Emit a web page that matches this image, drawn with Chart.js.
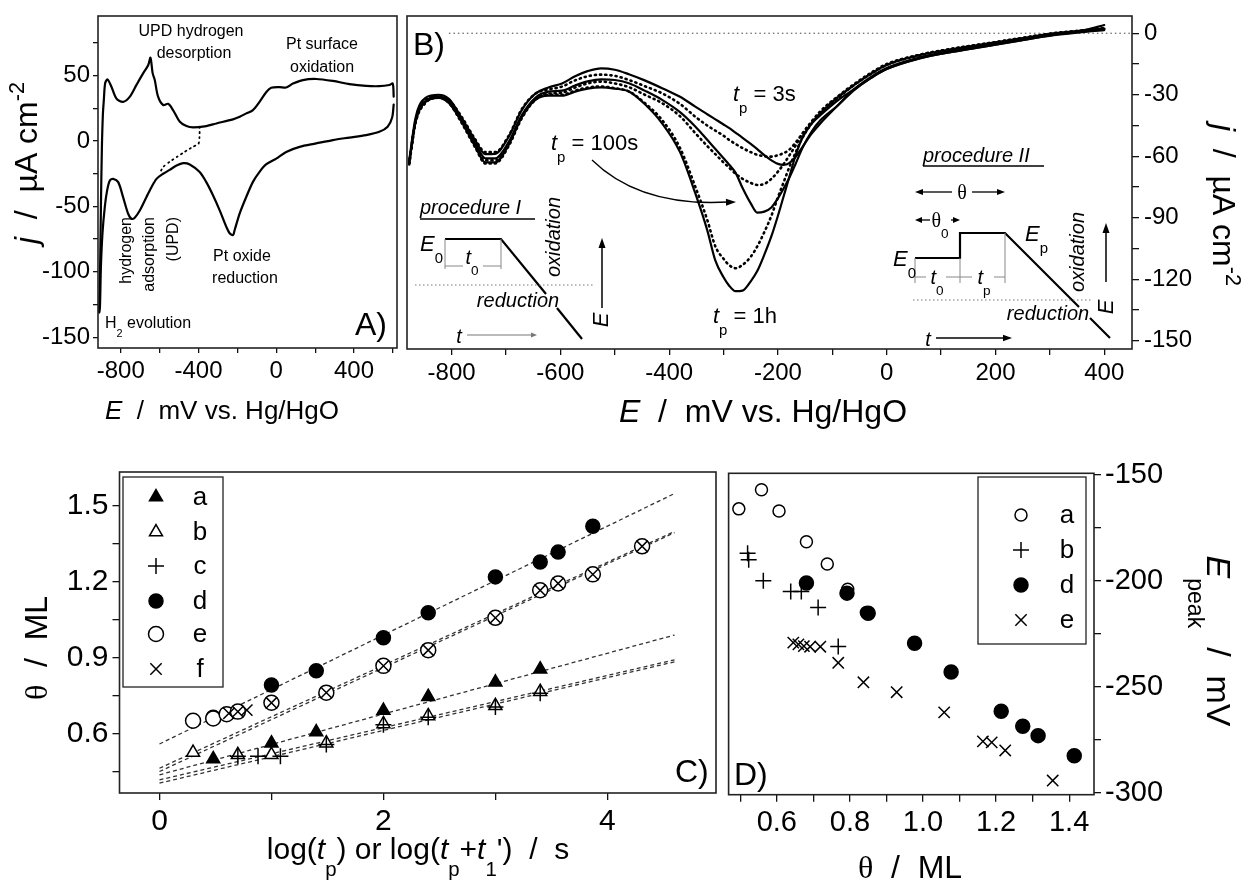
<!DOCTYPE html>
<html>
<head>
<meta charset="utf-8">
<script src="https://cdn.jsdelivr.net/npm/chart.js@4.4.1/dist/chart.umd.min.js"></script>
<style>
  body { margin: 0; background: #fff; width: 1241px; height: 888px; position: relative; overflow: hidden; }
  canvas { position: absolute; left: 0; top: 0; }
</style>
</head>
<body>
<canvas id="chartA" width="1241" height="888"></canvas>
<canvas id="chartB" width="1241" height="888"></canvas>
<canvas id="chartC" width="1241" height="888"></canvas>
<canvas id="chartD" width="1241" height="888"></canvas>
<script>
const FONT = '"Liberation Sans", Arial, Helvetica, sans-serif';
const SERIF = '"Liberation Serif", "DejaVu Serif", serif';

// ---- panel A : cyclic voltammogram ----
const aUpE = [-911, -906, -902, -897, -892, -887, -880, -868, -848, -822, -788, -753, -719, -685, -659, -647, -636, -625, -608, -582, -556, -531, -496, -462, -428, -360, -308, -223, -188, -154, -120, -86, -51, -26, 17, 51, 86, 137, 205, 291, 376, 462, 530, 582, 599, 604];
const aUpJ = [-131, -95, -50, -5, 20, 31.4, 44.4, 47.2, 41.6, 32.5, 30, 34, 43, 51.8, 58, 63.8, 52, 46.7, 34, 27.6, 28.5, 23.7, 14.8, 11.5, 10.5, 11.5, 13.5, 16.6, 18.6, 21.2, 23.7, 30, 37.5, 40.8, 41.3, 41, 44, 46.7, 47.5, 46, 43.6, 42.2, 42, 42.9, 44, 34];
const aDownE = [604, 596, 573, 530, 462, 376, 291, 205, 120, 51, 0, -51, -86, -120, -154, -188, -214, -223, -240, -257, -291, -325, -360, -394, -445, -479, -513, -548, -582, -616, -642, -668, -702, -728, -745, -762, -788, -813, -839, -856, -870, -882, -894, -902, -907, -911];
const aDownJ = [28, 18, 11, 7.1, 4.6, 2.7, 0.8, -1.8, -4.4, -8.3, -13.4, -17.7, -23.5, -31.2, -42.6, -55.3, -68, -72, -70.5, -65.6, -53, -41.6, -31.4, -23.7, -17.9, -16.9, -18.7, -22, -25, -28.9, -35.3, -42.9, -53.1, -58.6, -59.4, -55.6, -42.9, -31.4, -28.9, -30.1, -37.7, -50.3, -70.7, -96, -127, -131];
const aDotE = [-394, -395, -400, -430, -471, -510, -548, -580, -602];
const aDotJ = [11, 3, -2, -4.5, -8.2, -12, -15.8, -19.5, -25];
const aTicksE = [-800, -600, -400, -200, 0, 200, 400, 600];
const aLabelsE = ['-800', '', '-400', '', '0', '', '400', ''];
const aTicksJ = [75, 50, 25, 0, -25, -50, -75, -100, -125, -150];
const aLabelsJ = ['', '50', '', '0', '', '-50', '', '-100', '', '-150'];

// ---- panel B : reduction sweeps after different polarisation times ----
const bE = [-878, -866, -848, -824, -805, -781, -756, -738, -720, -695, -671, -646, -622, -597, -573, -550, -525, -500, -474, -445, -413, -380, -352, -330, -315, -300, -290, -278, -265, -250, -238, -225, -212, -200, -190, -180, -168, -155, -138, -122, -91, -61, -30, 0, 61, 122, 184, 245, 307, 368, 400];
const bJ3s = [-62, -41, -31.5, -30, -32, -41.5, -52.5, -59, -58.8, -50.5, -37.5, -29.5,
  -26.5, -24.5, -21, -18.5, -17.1, -17.8, -20, -23, -26.8, -31,
  -35.8, -39.5, -42, -44.5, -46.2, -48.5, -51, -54, -56.5, -59.5,
  -62, -63.7, -64.2, -63.5, -60.5, -55.5, -49, -44, -35.5, -27.5,
  -21.5, -17, -11.8, -8.5, -5.8, -3, -0.3, 1.8, 4];
const bJ10s = [-63.5, -42, -32, -30.5, -32.5, -41, -52, -58, -58, -50, -37, -29.5,
  -27.5, -26, -23, -21, -20.2, -20.8, -22.8, -25.8, -29.3, -34.5,
  -40.7, -45, -47.5, -50, -52, -54, -56, -58, -59.3, -60,
  -60.2, -59.5, -58.5, -57, -53.5, -49, -43.5, -39, -32, -25.5,
  -20, -15.5, -10.5, -7.5, -5, -2.5, 0, 1.5, 2.5];
const bJ100s = [-63, -42.5, -33, -31, -33, -42.5, -54, -61, -61, -53, -40, -31.5,
  -28.5, -28, -25.5, -23.5, -22.5, -22.8, -24.4, -28, -32.5, -38.5,
  -45.5, -52, -56.5, -61, -64, -68, -75.5, -83, -87.5, -87,
  -85, -80.5, -76, -71, -64, -56, -48, -42.5, -35.5, -28,
  -22, -17.5, -12.2, -9, -6.3, -3.5, -0.8, 1, 2];
const bJ300s = [-63.5, -43, -33.5, -31, -33.5, -43, -55, -62, -62, -54, -40.5, -32,
  -29.5, -29, -26.5, -24.5, -23.6, -24.5, -26.3, -30, -34.1, -40.5,
  -48.7, -55, -59, -63, -65.5, -68.5, -71, -73, -74, -73.5,
  -71, -67.5, -64, -60, -55, -49, -43, -38, -31, -25,
  -19.5, -15, -10.5, -7.5, -5, -2.5, 0, 1.5, 2.5];
const bJ1000s = [-64, -43.5, -34, -31.5, -34, -44, -56, -63.5, -63.5, -55, -41.5, -32.5,
  -30, -30, -28, -26.5, -26, -26.8, -28.4, -34, -42.3, -56,
  -74.8, -91, -104, -110, -113, -114.6, -113, -109, -104, -97,
  -89, -80, -73, -66, -58.5, -51, -44, -39, -31.5, -25.5,
  -20, -15.5, -10.8, -7.8, -5.2, -2.7, -0.2, 1.3, 2.2];
const bJ1h = [-63.5, -43, -33.5, -31.5, -34, -43.5, -55.5, -63, -63, -54.5, -41, -32.5,
  -30.5, -30.5, -28.5, -27, -26.4, -27, -28.4, -34.5, -43.9, -58,
  -78, -96, -110.9, -119, -123, -125.8, -125.5, -121, -116, -108,
  -99, -89, -80, -71, -60, -51, -44, -40, -33, -27.5,
  -22, -17.5, -12.3, -9, -6.3, -3.6, -1, 0.8, 1.5];
const bZeroE = [-805, 451];
const bZeroJ = [0, 0];
const bTicksE = [-800, -700, -600, -500, -400, -300, -200, -100, 0, 100, 200, 300, 400];
const bLabelsE = ['-800', '', '-600', '', '-400', '', '-200', '', '0', '', '200', '', '400'];
const bTicksJ = [0, -15, -30, -45, -60, -75, -90, -105, -120, -135, -150];
const bLabelsJ = ['0', '', '-30', '', '-60', '', '-90', '', '-120', '', '-150'];

// ---- panel C : coverage vs log time ----
const cA_x = [0.48, 1.0, 1.40, 2.0, 2.40, 3.0, 3.40];
const cA_y = [0.50, 0.562, 0.606, 0.691, 0.746, 0.803, 0.855];
const cB_x = [0.30, 0.70, 1.0, 1.49, 2.0, 2.40, 3.0, 3.40];
const cB_y = [0.525, 0.516, 0.516, 0.562, 0.638, 0.670, 0.710, 0.766];
const cC_x = [0.70, 0.88, 1.08, 1.49, 2.0, 2.40, 3.0, 3.40];
const cC_y = [0.51, 0.51, 0.51, 0.557, 0.635, 0.665, 0.705, 0.76];
const cD_x = [0.48, 1.0, 1.40, 2.0, 2.40, 3.0, 3.40, 3.56, 3.87];
const cD_y = [0.665, 0.792, 0.849, 0.979, 1.078, 1.22, 1.279, 1.318, 1.42];
const cE_x = [0.30, 0.48, 0.60, 0.70, 1.0, 1.49, 2.0, 2.40, 3.0, 3.40, 3.56, 3.87, 4.31];
const cE_y = [0.651, 0.66, 0.677, 0.687, 0.722, 0.762, 0.868, 0.93, 1.058, 1.167, 1.194, 1.23, 1.341];
const cF_x = [0.62, 0.70, 0.78, 1.0, 1.49, 2.0, 2.40, 3.0, 3.40, 3.56, 3.87, 4.31];
const cF_y = [0.68, 0.687, 0.693, 0.722, 0.762, 0.868, 0.93, 1.058, 1.167, 1.194, 1.23, 1.341];
const cFitX = [0, 4.6];
const cFitStart = [0.437, 0.417, 0.404, 0.559, 0.463, 0.45];
const cFitEnd = [0.99, 0.892, 0.884, 1.55, 1.40, 1.395];
const cSeriesNames = ['a', 'b', 'c', 'd', 'e', 'f'];
const cTicksX = [0, 1, 2, 3, 4];
const cLabelsX = ['0', '', '2', '', '4'];
const cTicksY = [0.45, 0.6, 0.75, 0.9, 1.05, 1.2, 1.35, 1.5];
const cLabelsY = ['', '0.6', '', '0.9', '', '1.2', '', '1.5'];

// ---- panel D : peak potential vs coverage ----
const dA_x = [0.496, 0.558, 0.606, 0.681, 0.738, 0.794, 0.845];
const dA_y = [-166, -157, -167, -181.5, -192, -204, -215];
const dB_x = [0.52, 0.523, 0.563, 0.638, 0.667, 0.713, 0.768];
const dB_y = [-187, -190, -200, -205, -205, -212.6, -231];
const dD_x = [0.681, 0.792, 0.85, 0.977, 1.077, 1.214, 1.273, 1.315, 1.414];
const dD_y = [-201, -205.8, -215.3, -229.5, -243, -261.6, -268.7, -273.1, -282.6];
const dE_x = [0.645, 0.659, 0.674, 0.691, 0.719, 0.768, 0.837, 0.928, 1.058, 1.164, 1.188, 1.225, 1.355];
const dE_y = [-229.2, -230, -230.8, -231.1, -231.1, -238.7, -247.9, -252.6, -262.1, -275.8, -276.3, -280.1, -294.3];
const dSeriesNames = ['a', 'b', 'd', 'e'];
const dTicksX = [0.5, 0.6, 0.7, 0.8, 0.9, 1.0, 1.1, 1.2, 1.3, 1.4];
const dLabelsX = ['', '0.6', '', '0.8', '', '1.0', '', '1.2', '', '1.4'];
const dTicksY = [-150, -175, -200, -225, -250, -275, -300];
const dLabelsY = ['-150', '', '-200', '', '-250', '', '-300'];

// ---------- helpers ----------
function pts(xs, ys) { return xs.map((x, i) => ({ x: x, y: ys[i] })); }

function axis(o) {
  return {
    type: 'linear', position: o.pos, min: o.min, max: o.max,
    afterBuildTicks: s => { s.ticks = o.ticks.map(v => ({ value: v })); },
    afterFit: s => {
      if (s.isHorizontal()) s.height = o.size; else s.width = o.size;
      s.paddingLeft = 0; s.paddingRight = 0; s.paddingTop = 0; s.paddingBottom = 0;
    },
    grid: { drawOnChartArea: false, drawTicks: true, tickLength: o.tick || 6, color: '#111', lineWidth: 1.3 },
    border: { display: false },
    ticks: {
      autoSkip: false, maxRotation: 0, minRotation: 0, padding: o.pad || 4, color: '#000',
      font: { family: FONT, size: o.font },
      callback: v => { const i = o.ticks.indexOf(v); return i >= 0 ? o.labels[i] : ''; }
    }
  };
}

function curve(xs, ys, dotted, width) {
  return {
    data: pts(xs, ys), showLine: true, pointRadius: 0, borderColor: '#000',
    borderWidth: width || 2.2, borderDash: dotted ? [1.2, 4] : [], borderCapStyle: 'round',
    cubicInterpolationMode: 'monotone', fill: false
  };
}

function marker(xs, ys, style, filled, r) {
  return {
    data: pts(xs, ys), showLine: false, pointStyle: style, pointRadius: r,
    pointBorderWidth: 1.5, pointBorderColor: '#000', pointBackgroundColor: filled ? '#000' : '#fff'
  };
}

function fitLine(i) {
  return {
    data: pts(cFitX, [cFitStart[i], cFitEnd[i]]), showLine: true, pointRadius: 0,
    borderColor: '#333', borderWidth: 1.3, borderDash: [4, 3]
  };
}

function rich(ctx, x, y, segs, size, align) {
  ctx.textAlign = 'left';
  ctx.textBaseline = 'alphabetic';
  const parts = segs.map(s => {
    const t = s[0], st = s[1] || 'r';
    const small = st === 'sub' || st === 'sup';
    const sz = small ? size * 0.68 : size;
    const font = (st === 'i' ? 'italic ' : '') + sz + 'px ' + (st === 'g' ? SERIF : FONT);
    ctx.font = font;
    return { t: t, font: font, w: ctx.measureText(t).width, dy: st === 'sub' ? size * 0.55 : (st === 'sup' ? -size * 0.42 : 0) };
  });
  const total = parts.reduce((a, p) => a + p.w, 0);
  let cx = align === 'center' ? x - total / 2 : (align === 'right' ? x - total : x);
  parts.forEach(p => { ctx.font = p.font; ctx.fillText(p.t, cx, y + p.dy); cx += p.w; });
}

function richRot(ctx, x, y, angle, segs, size) {
  ctx.save();
  ctx.translate(x, y);
  ctx.rotate(angle);
  rich(ctx, 0, size * 0.35, segs, size, 'center');
  ctx.restore();
}

function line(ctx, pts, w, color, dash) {
  ctx.save();
  ctx.lineWidth = w; ctx.strokeStyle = color || '#000';
  ctx.setLineDash(dash || []);
  ctx.beginPath();
  pts.forEach((p, i) => i ? ctx.lineTo(p[0], p[1]) : ctx.moveTo(p[0], p[1]));
  ctx.stroke();
  ctx.restore();
}

function head(ctx, x, y, ang, len, wid, color) {
  ctx.save();
  ctx.fillStyle = color || '#000';
  ctx.translate(x, y); ctx.rotate(ang);
  ctx.beginPath(); ctx.moveTo(0, 0); ctx.lineTo(-len, -wid); ctx.lineTo(-len, wid); ctx.closePath(); ctx.fill();
  ctx.restore();
}

const framePlugin = {
  id: 'frame',
  afterDatasetsDraw(chart) {
    const a = chart.chartArea, ctx = chart.ctx;
    ctx.save();
    ctx.lineWidth = 1.6; ctx.strokeStyle = '#222';
    ctx.strokeRect(a.left, a.top, a.right - a.left, a.bottom - a.top);
    ctx.restore();
  }
};

function drawLegend(ctx, box, rows) {
  ctx.save();
  ctx.lineWidth = 1.3; ctx.strokeStyle = '#222';
  ctx.strokeRect(box[0], box[1], box[2] - box[0], box[3] - box[1]);
  rows.forEach(r => {
    ctx.fillStyle = r.filled ? '#000' : '#fff';
    ctx.strokeStyle = '#000'; ctx.lineWidth = 1.5;
    Chart.helpers.drawPoint(ctx, { pointStyle: r.style, radius: r.r, borderWidth: 1.5, rotation: 0 }, r.mx, r.y);
    ctx.fillStyle = '#000';
    ctx.font = r.size + 'px ' + FONT; ctx.textAlign = 'center'; ctx.textBaseline = 'middle';
    ctx.fillText(r.label, r.lx, r.y + 1);
  });
  ctx.restore();
}

function baseOptions(padding, scales) {
  return {
    responsive: false, animation: false, events: [],
    layout: { padding: padding, autoPadding: false },
    plugins: { legend: { display: false }, tooltip: { enabled: false } },
    scales: scales
  };
}

// ---------- panel A ----------
new Chart(document.getElementById('chartA'), {
  type: 'scatter',
  data: {
    datasets: [
      { ...curve(aUpE, aUpJ, false), cubicInterpolationMode: 'default', tension: 0.3 },
      { ...curve(aDownE, aDownJ, false), cubicInterpolationMode: 'default', tension: 0.3 },
      { ...curve(aDotE, aDotJ, true, 1.8), cubicInterpolationMode: 'default', tension: 0.2 }
    ]
  },
  options: baseOptions({ left: 0, top: 16, right: 1241 - 397, bottom: 0 }, {
    x: axis({ pos: 'bottom', min: -917, max: 621, ticks: aTicksE, labels: aLabelsE, size: 888 - 348, font: 24, tick: 5, pad: 4 }),
    y: axis({ pos: 'left', min: -158.3, max: 95.7, ticks: aTicksJ, labels: aLabelsJ, size: 98, font: 24, tick: 5, pad: 3 })
  }),
  plugins: [framePlugin, {
    id: 'decoA',
    afterDraw(chart) {
      const ctx = chart.ctx;
      ctx.save();
      ctx.fillStyle = '#000';
      const s = 16;
      rich(ctx, 191, 36, [['UPD hydrogen']], s, 'center');
      rich(ctx, 194, 58, [['desorption']], s, 'center');
      rich(ctx, 322, 49, [['Pt surface']], s, 'center');
      rich(ctx, 322, 72, [['oxidation']], s, 'center');
      rich(ctx, 242, 261, [['Pt oxide']], s, 'center');
      rich(ctx, 245, 283, [['reduction']], s, 'center');
      [['hydrogen', 125], ['adsorption', 148], ['(UPD)', 172]].forEach(t => {
        ctx.save(); ctx.translate(t[1] + 6, 217); ctx.rotate(-Math.PI / 2);
        ctx.font = s + 'px ' + FONT; ctx.textAlign = 'right'; ctx.textBaseline = 'alphabetic';
        ctx.fillText(t[0], 0, 0); ctx.restore();
      });
      rich(ctx, 105, 328, [['H'], ['2', 'sub'], [' evolution']], s, 'left');
      rich(ctx, 355, 335, [['A)']], 32, 'left');
      richRot(ctx, 26, 163, -Math.PI / 2, [['j', 'i'], ['  /  µA cm'], ['-2', 'sup']], 32);
      rich(ctx, 222, 419, [['E', 'i'], ['  /  mV vs. Hg/HgO']], 26, 'center');
      ctx.restore();
    }
  }]
});

// ---------- panel B ----------
new Chart(document.getElementById('chartB'), {
  type: 'scatter',
  data: {
    datasets: [
      curve(bE, bJ3s, false),
      curve(bE, bJ10s, true, 2.6),
      curve(bE, bJ100s, false),
      curve(bE, bJ300s, true, 2.6),
      curve(bE, bJ1000s, true, 2.6),
      curve(bE, bJ1h, false),
      { data: pts(bZeroE, bZeroJ), showLine: true, pointRadius: 0, borderColor: '#444', borderWidth: 1, borderDash: [1.5, 3] }
    ]
  },
  options: baseOptions({ left: 407, top: 16, right: 0, bottom: 0 }, {
    x: axis({ pos: 'bottom', min: -882, max: 451, ticks: bTicksE, labels: bLabelsE, size: 888 - 349, font: 24, tick: 6, pad: 4 }),
    y: axis({ pos: 'right', min: -154, max: 8.4, ticks: bTicksJ, labels: bLabelsJ, size: 1241 - 1132, font: 24, tick: 7, pad: 5 })
  }),
  plugins: [framePlugin, {
    id: 'decoB',
    afterDraw(chart) {
      const ctx = chart.ctx;
      ctx.save();
      ctx.fillStyle = '#000';
      rich(ctx, 413, 55, [['B)']], 32, 'left');
      rich(ctx, 733, 101, [['t', 'i'], ['p', 'sub'], [' = 3s']], 22, 'left');
      rich(ctx, 551, 150, [['t', 'i'], ['p', 'sub'], [' = 100s']], 22, 'left');
      rich(ctx, 713, 323, [['t', 'i'], ['p', 'sub'], [' = 1h']], 22, 'left');
      // curved pointer
      ctx.beginPath(); ctx.lineWidth = 1.3; ctx.strokeStyle = '#000';
      ctx.moveTo(592, 160); ctx.quadraticCurveTo(640, 207, 728, 202); ctx.stroke();
      head(ctx, 736, 202, -0.02, 10, 3.5);

      // procedure I
      const f = 20;
      rich(ctx, 420, 214, [['procedure I', 'i']], f, 'left');
      line(ctx, [[420, 219], [535, 219]], 1.4);
      rich(ctx, 420, 251, [['E', 'i'], ['0', 'sub']], 22, 'left');
      line(ctx, [[445, 239], [501, 239], [546, 294]], 2.2);
      line(ctx, [[557, 308], [582, 339]], 2.2);
      line(ctx, [[445, 239], [445, 269]], 1, '#888');
      line(ctx, [[501, 239], [501, 269]], 1, '#888');
      line(ctx, [[445, 266], [463, 266]], 1, '#888');
      line(ctx, [[483, 266], [501, 266]], 1, '#888');
      rich(ctx, 472, 264, [['t', 'i'], ['0', 'sub']], f, 'center');
      line(ctx, [[415, 285], [595, 285]], 1, '#777', [1.5, 2.5]);
      rich(ctx, 518, 307, [['reduction', 'i']], f, 'center');
      richRot(ctx, 553, 237, -Math.PI / 2, [['oxidation', 'i']], f);
      line(ctx, [[602, 308], [602, 246]], 1.5);
      head(ctx, 602, 238, -Math.PI / 2, 10, 3.5);
      richRot(ctx, 600, 320, -Math.PI / 2, [['E', 'i']], 22);
      rich(ctx, 459, 343, [['t', 'i']], f, 'center');
      line(ctx, [[467, 335], [531, 335]], 1, '#777');
      head(ctx, 537, 335, 0, 6, 2.5, '#777');

      // procedure II
      rich(ctx, 923, 162, [['procedure II', 'i']], f, 'left');
      line(ctx, [[923, 166], [1044, 166]], 1.4);
      line(ctx, [[921, 192], [952, 192]], 1.3);
      line(ctx, [[972, 192], [999, 192]], 1.3);
      head(ctx, 915, 192, Math.PI, 8, 3); head(ctx, 1005, 192, 0, 8, 3);
      rich(ctx, 962, 199, [['θ', 'g']], f, 'center');
      line(ctx, [[921, 220], [930, 220]], 1.3);
      line(ctx, [[951, 220], [954, 220]], 1.3);
      head(ctx, 915, 220, Math.PI, 7, 3); head(ctx, 960, 220, 0, 7, 3);
      rich(ctx, 940, 227, [['θ', 'g'], ['0', 'sub']], f, 'center');
      line(ctx, [[915, 258], [960, 258], [960, 233], [1005, 233], [1079, 307]], 2.2);
      line(ctx, [[1090, 318], [1110, 338]], 2.2);
      line(ctx, [[915, 258], [915, 283]], 1, '#888');
      line(ctx, [[960, 258], [960, 283]], 1, '#888');
      line(ctx, [[1005, 233], [1005, 283]], 1, '#888');
      line(ctx, [[915, 277], [926, 277]], 1, '#888');
      line(ctx, [[946, 277], [972, 277]], 1, '#888');
      line(ctx, [[994, 277], [1005, 277]], 1, '#888');
      rich(ctx, 893, 266, [['E', 'i'], ['0', 'sub']], 22, 'left');
      rich(ctx, 1025, 241, [['E', 'i'], ['p', 'sub']], 22, 'left');
      rich(ctx, 937, 284, [['t', 'i'], ['0', 'sub']], f, 'center');
      rich(ctx, 984, 284, [['t', 'i'], ['p', 'sub']], f, 'center');
      line(ctx, [[913, 300], [1093, 300]], 1, '#777', [1.5, 2.5]);
      richRot(ctx, 1077, 252, -Math.PI / 2, [['oxidation', 'i']], f);
      line(ctx, [[1106, 282], [1106, 231]], 1.5);
      head(ctx, 1106, 223, -Math.PI / 2, 10, 3.5);
      richRot(ctx, 1105, 307, -Math.PI / 2, [['E', 'i']], 22);
      rich(ctx, 1048, 320, [['reduction', 'i']], f, 'center');
      rich(ctx, 928, 346, [['t', 'i']], f, 'center');
      line(ctx, [[936, 338], [1004, 338]], 1.6);
      head(ctx, 1012, 338, 0, 9, 3.2);

      // axis titles
      rich(ctx, 763, 422, [['E', 'i'], ['  /  mV vs. Hg/HgO']], 32, 'center');
      richRot(ctx, 1224, 205, Math.PI / 2, [['j', 'i'], ['  /  µA cm'], ['-2', 'sup']], 32);
      ctx.restore();
    }
  }]
});

// ---------- panel C ----------
new Chart(document.getElementById('chartC'), {
  type: 'scatter',
  data: {
    datasets: [
      marker(cF_x, cF_y, 'crossRot', false, 8),
      marker(cE_x, cE_y, 'circle', false, 7.5),
      marker(cD_x, cD_y, 'circle', true, 7),
      marker(cC_x, cC_y, 'cross', false, 8),
      marker(cB_x, cB_y, 'triangle', false, 7.5),
      marker(cA_x, cA_y, 'triangle', true, 7.5),
      fitLine(0), fitLine(1), fitLine(2), fitLine(3), fitLine(4), fitLine(5)
    ]
  },
  options: baseOptions({ left: 0, top: 472, right: 1241 - 716, bottom: 0 }, {
    x: axis({ pos: 'bottom', min: -0.357, max: 4.97, ticks: cTicksX, labels: cLabelsX, size: 888 - 793, font: 30, tick: 7, pad: 4 }),
    y: axis({ pos: 'left', min: 0.365, max: 1.635, ticks: cTicksY, labels: cLabelsY, size: 119.5, font: 30, tick: 7, pad: 4 })
  }),
  plugins: [framePlugin, {
    id: 'decoC',
    afterDraw(chart) {
      const ctx = chart.ctx;
      const styles = [['triangle', true, 7.5], ['triangle', false, 7.5], ['cross', false, 8], ['circle', true, 7], ['circle', false, 7.5], ['crossRot', false, 8]];
      const ys = [497, 532, 566, 601, 634, 669];
      drawLegend(ctx, [123, 477, 223, 687], cSeriesNames.map((n, i) => ({
        style: styles[i][0], filled: styles[i][1], r: styles[i][2], mx: 156, lx: 200, y: ys[i], label: n, size: 26
      })));
      ctx.save();
      ctx.fillStyle = '#000';
      rich(ctx, 675, 782, [['C)']], 32, 'left');
      richRot(ctx, 36, 648, -Math.PI / 2, [['θ', 'g'], ['  /  ML']], 32);
      rich(ctx, 418, 859, [['log('], ['t', 'i'], ['p', 'sub'], [') or log('], ['t', 'i'], ['p', 'sub'], ['+'], ['t', 'i'], ['1', 'sub'], ["')  /  s"]], 30, 'center');
      ctx.restore();
    }
  }]
});

// ---------- panel D ----------
new Chart(document.getElementById('chartD'), {
  type: 'scatter',
  data: {
    datasets: [
      marker(dE_x, dE_y, 'crossRot', false, 8),
      marker(dD_x, dD_y, 'circle', true, 7),
      marker(dB_x, dB_y, 'cross', false, 8),
      marker(dA_x, dA_y, 'circle', false, 6)
    ]
  },
  options: baseOptions({ left: 728.6, top: 473.3, right: 0, bottom: 0 }, {
    x: axis({ pos: 'bottom', min: 0.468, max: 1.468, ticks: dTicksX, labels: dLabelsX, size: 888 - 794.7, font: 29, tick: 7, pad: 4 }),
    y: axis({ pos: 'right', min: -301, max: -149.2, ticks: dTicksY, labels: dLabelsY, size: 1241 - 1094, font: 29, tick: 7, pad: 4 })
  }),
  plugins: [framePlugin, {
    id: 'decoD',
    afterDraw(chart) {
      const ctx = chart.ctx;
      const styles = [['circle', false, 6], ['cross', false, 8], ['circle', true, 7], ['crossRot', false, 8]];
      const ys = [515, 550, 585, 620];
      drawLegend(ctx, [978, 477, 1086, 644], dSeriesNames.map((n, i) => ({
        style: styles[i][0], filled: styles[i][1], r: styles[i][2], mx: 1021, lx: 1067, y: ys[i], label: n, size: 26
      })));
      ctx.save();
      ctx.fillStyle = '#000';
      rich(ctx, 734, 785, [['D)']], 32, 'left');
      rich(ctx, 910, 878, [['θ', 'g'], ['  /  ML']], 32, 'center');
      richRot(ctx, 1219, 641, Math.PI / 2, [['E', 'i'], ['peak', 'sub'], ['  /  mV']], 34);
      ctx.restore();
    }
  }]
});
</script>
</body>
</html>
